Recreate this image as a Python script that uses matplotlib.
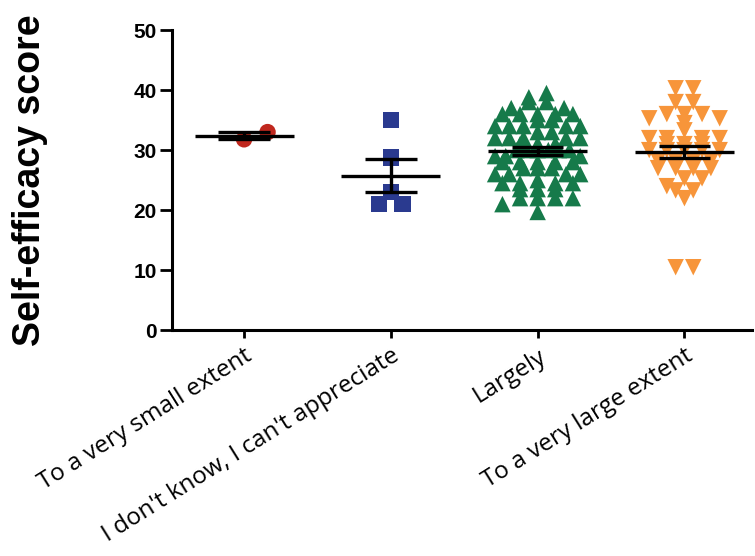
import numpy as np
import matplotlib.pyplot as plt

# categories and scores
categories = ["To a very small extent", "I don't know, I can't appreciate",
              "Largely", "To a very large extent"]
very_small = [31.8, 33.0]
dont_know = [35.0, 28.8, 23.0, 21.0, 21.0]
largely = [39.5, 38.8, 38, 38, 37, 37, 36, 36, 36, 36, 36, 35, 35,
           34, 34, 34, 34, 34, 33, 33, 32, 32, 32, 32, 32, 31, 31, 31,
           30, 30, 30, 30, 30, 30, 29, 29, 29, 28, 28, 28, 28, 28,
           27, 27, 27, 26, 26, 26, 26, 25, 24.5, 24.5, 24.5, 24.5,
           23.5, 23.5, 23.5, 22, 22, 22, 22, 21, 19.7]
very_large = [40.3, 40.3, 38, 38, 36, 36, 36, 35.3, 35.3, 34.5, 33.3,
              32, 32, 32, 32, 31, 31, 31, 30, 30, 30, 30, 30,
              28.3, 28.3, 28.3, 28.3, 27, 27, 27, 27, 25.3, 25.3, 24,
              23.3, 23.3, 22, 10.5, 10.5]

groups = [very_small, dont_know, largely, very_large]
colors = ['#C0281E', '#2A3A8F', '#167A4A', '#F7953A']
markers = ['o', 's', '^', 'v']


def spread(vals, bw=1.6, dx=0.12, maxw=0.29):
    # put points of similar value side by side (scatter-dot style)
    vals = np.asarray(vals, dtype=float)
    offs = np.zeros(len(vals))
    bins = np.floor(vals / bw)
    for b in np.unique(bins):
        idx = np.where(bins == b)[0]
        n = len(idx)
        if n == 1:
            continue
        step = min(dx, 2 * maxw / (n - 1))
        pos = (np.arange(n) - (n - 1) / 2) * step
        # alternate ends so neighbouring values don't line up diagonally
        order = []
        lo, hi = 0, n - 1
        while lo <= hi:
            order.append(lo)
            if hi != lo:
                order.append(hi)
            lo += 1
            hi -= 1
        idx = idx[np.argsort(vals[idx])]
        offs[idx] = pos[order]
    return offs


fig = plt.figure(figsize=(7.55, 5.56), dpi=100)
ax = fig.add_axes([0.228, 0.406, 0.768, 0.54])

for i, vals in enumerate(groups):
    vals = np.array(vals, dtype=float)
    if i == 0:
        offs = np.array([0.0, 0.16])
    elif i == 1:
        offs = spread(vals, dx=0.16)
    else:
        offs = spread(vals)
    ax.scatter(i + offs, vals, marker=markers[i], s=140, color=colors[i],
               edgecolors='none', zorder=2)
    m = vals.mean()
    sem = vals.std(ddof=1) / np.sqrt(len(vals))
    ax.hlines(m, i - 0.337, i + 0.337, color='black', lw=2.4, zorder=3)
    ax.hlines([m - sem, m + sem], i - 0.175, i + 0.175, color='black',
              lw=2.4, zorder=3)
    ax.vlines(i, m - sem, m + sem, color='black', lw=2.4, zorder=3)

ax.set_xlim(-0.49, 3.46)
ax.set_ylim(0, 50)
ax.set_yticks([0, 10, 20, 30, 40, 50])
ax.set_xticks(range(len(categories)))
ax.set_xticklabels(categories, rotation=32, ha='right', va='top',
                   rotation_mode='anchor', family='Open Sans', fontsize=17.5)

for lab in ax.get_yticklabels():
    lab.set_fontfamily('Liberation Sans')
    lab.set_fontweight('bold')
    lab.set_fontsize(15)

for s in ['top', 'right']:
    ax.spines[s].set_visible(False)
for s in ['left', 'bottom']:
    ax.spines[s].set_linewidth(2.2)
ax.tick_params(axis='y', width=2, length=9, direction='out', pad=2)
ax.tick_params(axis='x', width=2, length=6, direction='out', pad=4)

ax.set_ylabel('Self-efficacy score', family='Liberation Sans',
              fontweight='bold', fontsize=27)
ax.yaxis.set_label_coords(-0.214, 0.5)

fig.savefig('out.png', dpi=100)
